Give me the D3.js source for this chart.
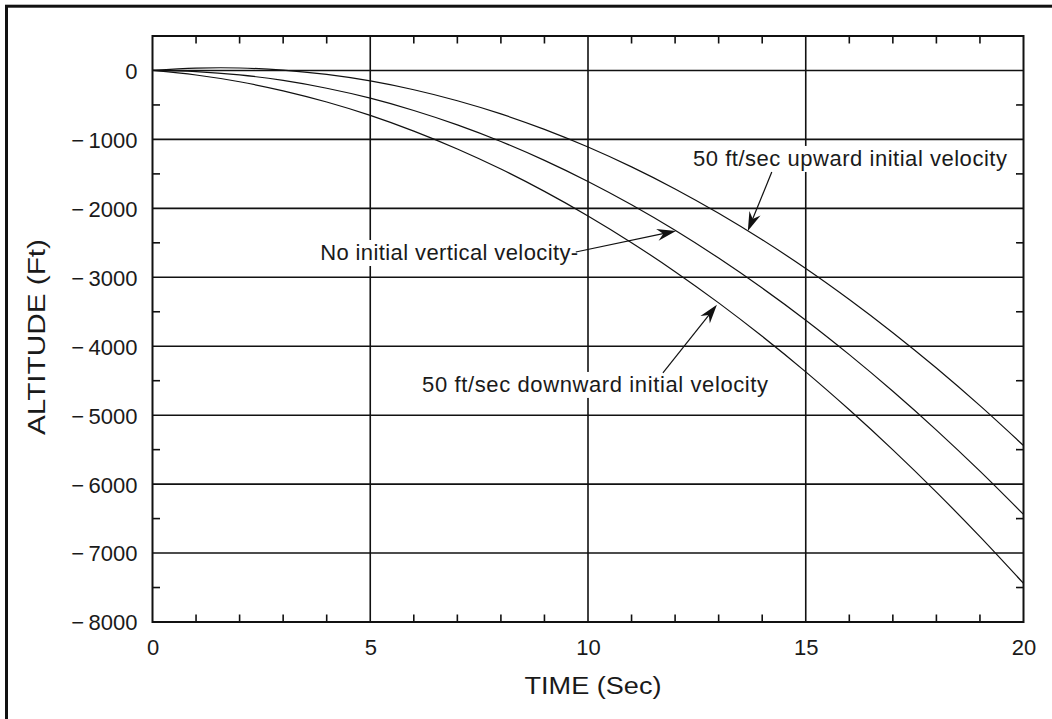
<!DOCTYPE html>
<html>
<head>
<meta charset="utf-8">
<script src="https://cdn.jsdelivr.net/npm/d3@7"></script>
<style>
  html, body { margin: 0; padding: 0; background: #fff; }
  svg { display: block; }
  text { font-family: "Liberation Sans", Arial, sans-serif; fill: #1a1a1a; }
</style>
</head>
<body>
<svg id="chart" width="1052" height="719"></svg>
<script>
// ---- data ----
const timeSec = [0,1,2,3,4,5,6,7,8,9,10,11,12,13,14,15,16,17,18,19,20];
const upwardAlt   = [0,34,36,5,-58,-152,-280,-439,-630,-854,-1110,-1398,-1718,-2071,-2456,-2872,-3322,-3803,-4316,-4862,-5440];
const noneAlt     = [0,-16,-64,-145,-258,-402,-580,-789,-1030,-1304,-1610,-1948,-2318,-2721,-3156,-3622,-4122,-4653,-5216,-5812,-6440];
const downwardAlt = [0,-66,-164,-295,-458,-652,-880,-1139,-1430,-1754,-2110,-2498,-2918,-3371,-3856,-4372,-4922,-5503,-6116,-6762,-7440];
const xTicks = [0,5,10,15,20];
const yTicks = [0,-1000,-2000,-3000,-4000,-5000,-6000,-7000,-8000];
const xMinor = [1,2,3,4,6,7,8,9,11,12,13,14,16,17,18,19];
const yMinor = [500,-500,-1500,-2500,-3500,-4500,-5500,-6500,-7500];
const xGrid = [5,10,15];
const yGrid = [0,-1000,-2000,-3000,-4000,-5000,-6000,-7000];
const annotations = [
  {label: "50 ft/sec upward initial velocity",   tx: 12.41, ty: -1385, tw: 314, ax: 14.22, ay: -1472, px: 13.67, py: -2328},
  {label: "No initial vertical velocity-",       tx: 3.85,  ty: -2749, tw: 258, ax: 9.72,  ay: -2633, px: 12.02, py: -2328},
  {label: "50 ft/sec downward initial velocity", tx: 6.19,  ty: -4663, tw: 346, ax: 11.72, ay: -4388, px: 12.96, py: -3400}
];
const xTitle = "TIME (Sec)";
const yTitle = "ALTITUDE (Ft)";

// ---- layout ----
const svg = d3.select("#chart");
const L = 152.5, R = 1023.5, T = 36, B = 622;
const x = d3.scaleLinear().domain([0, 20]).range([L, R]);
const y = d3.scaleLinear().domain([-8000, 500]).range([B, T]);
const ink = "#111";
const FONT = '"Liberation Sans", Arial, sans-serif';

// outer figure border (top & left visible)
svg.append("rect").attr("x", 6.5).attr("y", 6.2).attr("width", 1100).attr("height", 800)
  .attr("fill", "none").attr("stroke", ink).attr("stroke-width", 3);

// grid
svg.append("g").selectAll("line").data(xGrid).join("line")
  .attr("x1", d => x(d)).attr("x2", d => x(d)).attr("y1", T).attr("y2", B)
  .attr("stroke", ink).attr("stroke-width", 1.6);
svg.append("g").selectAll("line").data(yGrid).join("line")
  .attr("y1", d => y(d)).attr("y2", d => y(d)).attr("x1", L).attr("x2", R)
  .attr("stroke", ink).attr("stroke-width", 1.6);

// minor ticks (inward, all four sides)
const tl = 7.5;
const mt = svg.append("g").attr("stroke", ink).attr("stroke-width", 1.6);
mt.selectAll(".xb").data(xMinor).join("line").attr("class","xb")
  .attr("x1", d => x(d)).attr("x2", d => x(d)).attr("y1", B).attr("y2", B - tl);
mt.selectAll(".xt").data(xMinor).join("line").attr("class","xt")
  .attr("x1", d => x(d)).attr("x2", d => x(d)).attr("y1", T).attr("y2", T + tl);
mt.selectAll(".yl").data(yMinor).join("line").attr("class","yl")
  .attr("y1", d => y(d)).attr("y2", d => y(d)).attr("x1", L).attr("x2", L + tl);
mt.selectAll(".yr").data(yMinor).join("line").attr("class","yr")
  .attr("y1", d => y(d)).attr("y2", d => y(d)).attr("x1", R).attr("x2", R - tl);

// curves
const line = d3.line().x(d => x(d[0])).y(d => y(d[1])).curve(d3.curveCatmullRom);
[upwardAlt, noneAlt, downwardAlt].forEach(s => {
  svg.append("path").datum(timeSec.map((t, i) => [t, s[i]]))
    .attr("d", line).attr("fill", "none").attr("stroke", ink).attr("stroke-width", 1.2);
});

// plot frame
svg.append("rect").attr("x", L).attr("y", T).attr("width", R - L).attr("height", B - T)
  .attr("fill", "none").attr("stroke", ink).attr("stroke-width", 2);

// axes labels via d3 axes (ticks hidden, labels only)
const fmt = d => d < 0 ? "\u2212" + "\u2009" + Math.abs(d) : String(d);
const xAxis = svg.append("g").attr("transform", `translate(0,${B})`)
  .call(d3.axisBottom(x).tickValues(xTicks).tickSize(0).tickPadding(0).tickFormat(d3.format("d")));
xAxis.select(".domain").remove();
xAxis.selectAll("text").attr("dy", null).attr("y", 33).style("font-size", "22px")
  .style("font-family", FONT).attr("fill", "#1a1a1a");

const yAxis = svg.append("g").attr("transform", `translate(${L},0)`)
  .call(d3.axisLeft(y).tickValues(yTicks).tickSize(0).tickPadding(0).tickFormat(fmt));
yAxis.select(".domain").remove();
yAxis.selectAll("text").attr("dy", "0.36em").attr("x", -15).style("font-size", "22px")
  .style("font-family", FONT).attr("fill", "#1a1a1a");

// axis titles
svg.append("text").attr("x", (L + R) / 2 + 5).attr("y", 694).attr("text-anchor", "middle")
  .style("font-size", "23px").attr("textLength", 137).attr("lengthAdjust", "spacingAndGlyphs").text(xTitle);
svg.append("text").attr("transform", `translate(45,${(T + B) / 2 + 8}) rotate(-90)`).attr("text-anchor", "middle")
  .style("font-size", "23px").attr("textLength", 196).attr("lengthAdjust", "spacingAndGlyphs").text(yTitle);

// annotations
const ag = svg.append("g");
annotations.forEach(a => {
  const tx = x(a.tx), ty = y(a.ty);
  ag.append("rect").attr("x", tx - 3).attr("y", ty - 20).attr("width", a.tw + 6).attr("height", 26).attr("fill", "#fff");
});
annotations.forEach(a => {
  const tx = x(a.tx), ty = y(a.ty);
  ag.append("text").attr("x", tx).attr("y", ty).style("font-size", "22px")
    .attr("textLength", a.tw).attr("lengthAdjust", "spacing").text(a.label);
  const x0 = x(a.ax), y0 = y(a.ay), x1 = x(a.px), y1 = y(a.py);
  const ang = Math.atan2(y1 - y0, x1 - x0);
  const len = Math.hypot(x1 - x0, y1 - y0);
  const g = ag.append("g").attr("transform", `translate(${x0},${y0}) rotate(${ang * 180 / Math.PI})`);
  g.append("line").attr("x1", 0).attr("y1", 0).attr("x2", len - 12).attr("y2", 0)
    .attr("stroke", ink).attr("stroke-width", 1.2);
  g.append("path").attr("d", `M${len},0 L${len - 19},-6 L${len - 13},0 L${len - 19},6 Z`).attr("fill", ink);
});
</script>
</body>
</html>
